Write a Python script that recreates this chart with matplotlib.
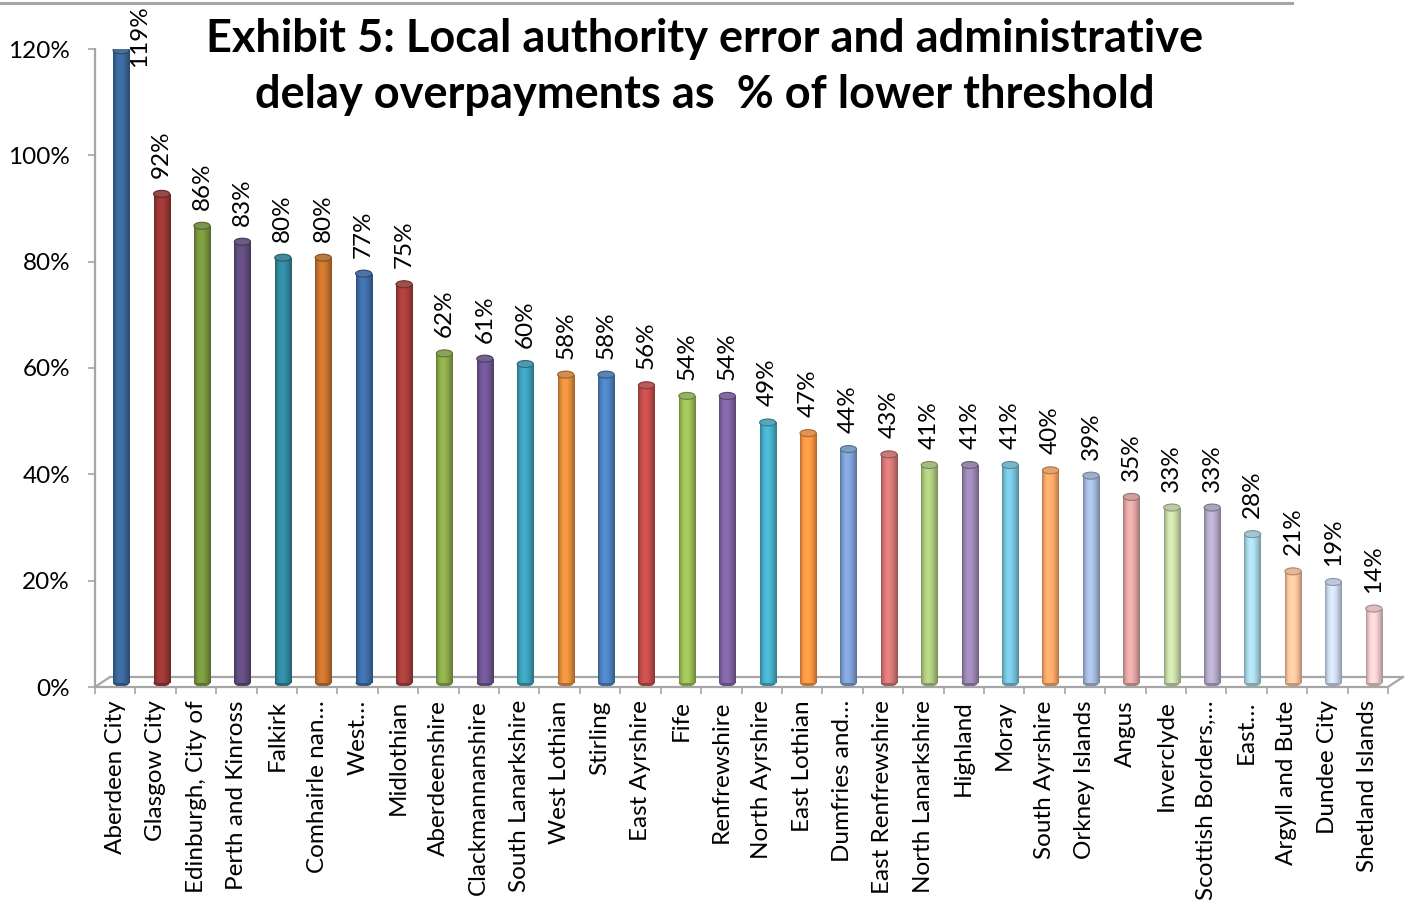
import matplotlib.pyplot as plt
import matplotlib.colors as mcolors
import numpy as np
from matplotlib.patches import Ellipse
from matplotlib.lines import Line2D
from matplotlib.transforms import offset_copy

councils = ["Aberdeen City", "Glasgow City", "Edinburgh, City of", "Perth and Kinross",
            "Falkirk", "Comhairle nan…", "West…", "Midlothian", "Aberdeenshire",
            "Clackmannanshire", "South Lanarkshire", "West Lothian", "Stirling",
            "East Ayrshire", "Fife", "Renfrewshire", "North Ayrshire", "East Lothian",
            "Dumfries and…", "East Renfrewshire", "North Lanarkshire", "Highland",
            "Moray", "South Ayrshire", "Orkney Islands", "Angus", "Inverclyde",
            "Scottish Borders,…", "East…", "Argyll and Bute", "Dundee City",
            "Shetland Islands"]
overpayment_pct = [119, 92, 86, 83, 80, 80, 77, 75, 62, 61, 60, 58, 58, 56, 54, 54,
                   49, 47, 44, 43, 41, 41, 41, 40, 39, 35, 33, 33, 28, 21, 19, 14]
bar_colors = ["#3A6496", "#943634", "#76923C", "#5F4A7B", "#31849B", "#C2702D",
              "#3D6AA5", "#A33D3A", "#87A548", "#6C5490", "#3A9BB3", "#E08A3C",
              "#4A7EBB", "#BE4B48", "#98B954", "#7D60A0", "#46AAC5", "#F69240",
              "#7A9CCF", "#D07472", "#A9C47A", "#9783B0", "#73BED6", "#F8A366",
              "#A1B5D8", "#DBA2A0", "#C4D6A4", "#B1A6C5", "#A5D2E0", "#F9C09A",
              "#C7D4EA", "#E9C8C7"]
y_ticks = [0, 20, 40, 60, 80, 100, 120]

plt.rcParams['font.family'] = ['Lato', 'DejaVu Sans']
grey = "#A6A6A6"

W, H = 1410, 901
fig = plt.figure(figsize=(W / 100, H / 100), dpi=100)
ax = fig.add_axes([95 / W, (H - 687) / H, 1293 / W, 638 / H])

n = len(councils)
x = np.arange(n)
px_x = 1293 / n      # pixels per category
px_y = 638 / 120     # pixels per percent

# cylinders sit a little behind the front edge of the floor
bar_trans = offset_copy(ax.transData, fig=fig, x=6, y=4, units='dots')
width = 0.4
cap_h = 7 / px_y

bars = ax.bar(x, overpayment_pct, width=width, color=bar_colors,
              transform=bar_trans, zorder=2)

t = np.linspace(0, 1, 64)
shade = 0.72 + 0.40 * np.sin(np.pi * t ** 0.8)
for i, (bar, v, c) in enumerate(zip(bars, overpayment_pct, bar_colors)):
    base = np.array(mcolors.to_rgb(c))
    grad = np.clip(base[None, :] * shade[:, None], 0, 1)[None, :, :]
    img = ax.imshow(grad, extent=(i - width / 2, i + width / 2, 0, v), aspect='auto',
                    transform=bar_trans, zorder=2.1, interpolation='bilinear')
    img.set_clip_path(bar)
    ax.add_patch(Ellipse((i, 0), width, cap_h, transform=bar_trans,
                         facecolor=base * 0.78, edgecolor='none', zorder=1.9))
    top = np.clip(base * 0.8 + 0.12, 0, 1)
    ax.add_patch(Ellipse((i, v), width, cap_h, transform=bar_trans,
                         facecolor=top, edgecolor=base * 0.7, lw=0.8, zorder=2.2))
    # value labels above each cylinder; the tallest one sits beside its bar
    if v > 110:
        offs = (6 + 18.5, 4 - 17)
    else:
        offs = (6, 4 + 16)
    ax.annotate(f"{v}%", xy=(i, v), xytext=offs, textcoords='offset pixels',
                rotation=90, ha='center', va='bottom', fontsize=17.5, zorder=3)

ax.set_xlim(-0.5, n - 0.5)
ax.set_ylim(0, 120)

# floor of the 3-D plot area
dx, dy = 15 / px_x, 10 / px_y
floor_kw = dict(color=grey, lw=1.6, clip_on=False, zorder=1)
ax.add_line(Line2D([-0.5 + dx, n - 0.5 + dx], [dy, dy], **floor_kw))
ax.add_line(Line2D([-0.5, -0.5 + dx], [0, dy], **floor_kw))
ax.add_line(Line2D([n - 0.5, n - 0.5 + dx], [0, dy], **floor_kw))

for side in ['top', 'right']:
    ax.spines[side].set_visible(False)
for side in ['left', 'bottom']:
    ax.spines[side].set_color(grey)
    ax.spines[side].set_linewidth(1.6)

ax.set_xticks(x)
ax.set_xticklabels(councils, rotation=90, fontsize=17.5)
ax.set_xticks(np.arange(-0.5, n, 1), minor=True)
ax.tick_params(axis='x', which='major', length=0, pad=9.5)
ax.tick_params(axis='x', which='minor', length=5, width=1.2, color=grey)

ax.set_yticks(y_ticks)
ax.set_yticklabels([f"{v}%" for v in y_ticks], fontsize=17.5)
ax.tick_params(axis='y', length=5, width=1.2, color=grey, pad=13)

fig.text(0.5, 1 - 39 / H, "Exhibit 5: Local authority error and administrative",
         ha='center', va='center', fontsize=32.5, fontweight='bold')
fig.text(0.5, 1 - 95 / H, "delay overpayments as  % of lower threshold",
         ha='center', va='center', fontsize=32.5, fontweight='bold')

fig.add_artist(Line2D([0, 1292 / W], [1 - 3 / H, 1 - 3 / H],
                      transform=fig.transFigure, color=grey, lw=2.2))

fig.savefig("out.png", dpi=100)
